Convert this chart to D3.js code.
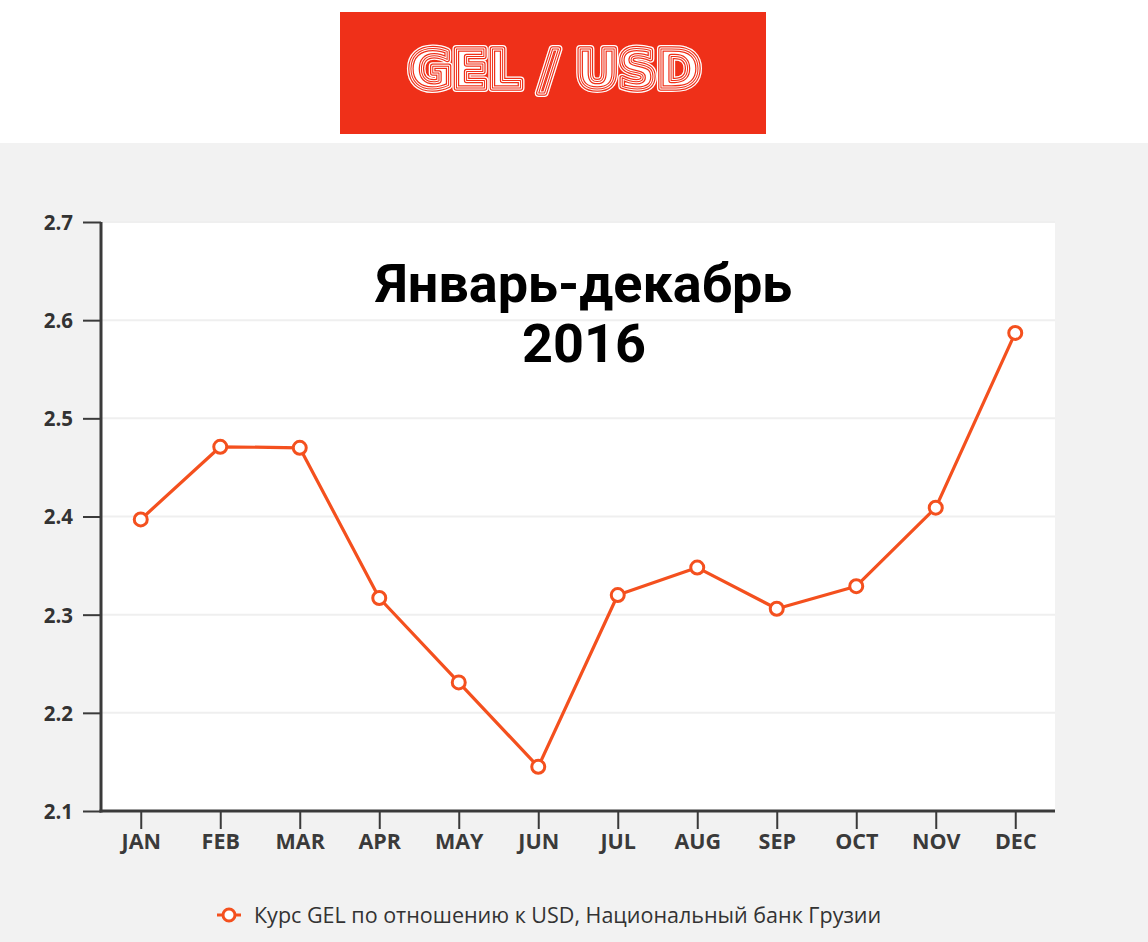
<!DOCTYPE html>
<html>
<head>
<meta charset="utf-8">
<script src="https://cdn.jsdelivr.net/npm/d3@7"></script>
<style>
  html, body { margin: 0; padding: 0; background: #f2f2f2; }
  svg { display: block; }
</style>
</head>
<body>
<div id="chart"></div>
<script>
// data
const months = ['JAN', 'FEB', 'MAR', 'APR', 'MAY', 'JUN', 'JUL', 'AUG', 'SEP', 'OCT', 'NOV', 'DEC'];
const rates = [2.397, 2.471, 2.470, 2.317, 2.231, 2.145, 2.320, 2.348, 2.306, 2.329, 2.409, 2.587];
const yTicks = [2.1, 2.2, 2.3, 2.4, 2.5, 2.6, 2.7];
const seriesName = 'Курс GEL по отношению к USD, Национальный банк Грузии';
const titleLines = ['Январь-декабрь', '2016'];
const bannerText = 'GEL / USD';

const width = 1148, height = 942;
const margin = {top: 222, right: 93, bottom: 131, left: 101};
const lineColor = '#f4501e';
const bannerRed = '#ef3019';

const svg = d3.select('#chart')
    .append('svg')
    .attr('width', width)
    .attr('height', height);

// top white band with red banner
svg.append('rect').attr('x', 0).attr('y', 0).attr('width', width).attr('height', 143).style('fill', '#fff');
svg.append('rect').attr('x', 340).attr('y', 12).attr('width', 426).attr('height', 122).style('fill', bannerRed);

// striped "inline" lettering: stacked strokes, alternating white / red
const banner = svg.append('g').attr('transform', 'translate(554,88)');
function bannerLayer(w, c, fill) {
    banner.append('text')
        .attr('text-anchor', 'middle')
        .style('font-family', 'DejaVu Sans')
        .style('font-weight', 'bold')
        .style('font-size', '54px')
        .style('letter-spacing', '-1px')
        .style('fill', fill)
        .style('stroke', c)
        .style('stroke-width', w)
        .style('stroke-linejoin', 'round')
        .text(bannerText);
}
bannerLayer(8, '#fff', '#fff');
bannerLayer(5.5, bannerRed, 'none');
bannerLayer(3, '#fff', 'none');
bannerLayer(1, bannerRed, 'none');

const innerW = width - margin.left - margin.right;
const innerH = height - margin.top - margin.bottom;

const x = d3.scalePoint().domain(months).range([0, innerW]).padding(0.5);
const y = d3.scaleLinear().domain([2.1, 2.7]).range([innerH, 0]);

const g = svg.append('g').attr('transform', `translate(${margin.left},${margin.top})`);

g.append('rect')
    .attr('x', 0).attr('y', -1)
    .attr('width', innerW).attr('height', innerH + 1)
    .style('fill', '#fff');

// gridlines
g.append('g')
    .selectAll('line')
    .data(yTicks)
    .join('line')
    .attr('x1', 0).attr('x2', innerW)
    .attr('y1', d => y(d)).attr('y2', d => y(d))
    .style('stroke', '#efefef')
    .style('stroke-width', 2);

// y axis
const yAxis = g.append('g')
    .call(d3.axisLeft(y).tickValues(yTicks).tickFormat(d3.format('.1f')).tickSize(18).tickSizeOuter(0));
yAxis.select('.domain').remove();
yAxis.selectAll('.tick line').style('stroke', '#3a3a3a').style('stroke-width', 2);
yAxis.selectAll('.tick text')
    .attr('x', -28)
    .attr('dy', '0.36em')
    .style('font-family', 'Open Sans')
    .style('font-weight', 'bold')
    .style('font-size', '20.5px')
    .style('fill', '#333');

// x axis
const xAxis = g.append('g')
    .attr('transform', `translate(0,${innerH})`)
    .call(d3.axisBottom(x).tickSize(18).tickSizeOuter(0));
xAxis.select('.domain').remove();
xAxis.selectAll('.tick line').style('stroke', '#3a3a3a').style('stroke-width', 2);
xAxis.selectAll('.tick text')
    .attr('y', 38)
    .attr('dy', 0)
    .style('font-family', 'Open Sans')
    .style('font-weight', 'bold')
    .style('font-size', '21.5px')
    .style('fill', '#3a3a3a');

// axis lines
g.append('line')
    .attr('x1', 0).attr('x2', 0).attr('y1', 0).attr('y2', innerH + 1.5)
    .style('stroke', '#3a3a3a').style('stroke-width', 3);
g.append('line')
    .attr('x1', -1.5).attr('x2', innerW).attr('y1', innerH).attr('y2', innerH)
    .style('stroke', '#3a3a3a').style('stroke-width', 3);

// chart title
const title = g.append('text')
    .attr('text-anchor', 'middle')
    .style('font-family', 'Roboto')
    .style('font-weight', 'bold')
    .style('font-size', '54px')
    .style('fill', '#000');
titleLines.forEach((t, i) => {
    title.append('tspan')
        .attr('x', 584 - margin.left)
        .attr('y', 302 - margin.top + i * 60)
        .text(t);
});

// line + markers
const line = d3.line()
    .x((d, i) => x(months[i]))
    .y(d => y(d));

g.append('path')
    .datum(rates)
    .attr('d', line)
    .style('fill', 'none')
    .style('stroke', lineColor)
    .style('stroke-width', 3.2)
    .style('stroke-linejoin', 'round');

g.selectAll('.dot')
    .data(rates)
    .join('circle')
    .attr('class', 'dot')
    .attr('cx', (d, i) => x(months[i]))
    .attr('cy', d => y(d))
    .attr('r', 6.5)
    .style('fill', '#fff')
    .style('stroke', lineColor)
    .style('stroke-width', 3);

// legend
const legend = svg.append('g').attr('transform', 'translate(217,915)');
legend.append('line')
    .attr('x1', 0).attr('x2', 24)
    .style('stroke', lineColor).style('stroke-width', 3);
legend.append('circle')
    .attr('cx', 12).attr('r', 6)
    .style('fill', '#fff').style('stroke', lineColor).style('stroke-width', 3);
legend.append('text')
    .attr('x', 37)
    .attr('dy', '0.35em')
    .style('font-family', 'Open Sans')
    .style('font-size', '21.5px')
    .style('fill', '#333')
    .text(seriesName);
</script>
</body>
</html>
